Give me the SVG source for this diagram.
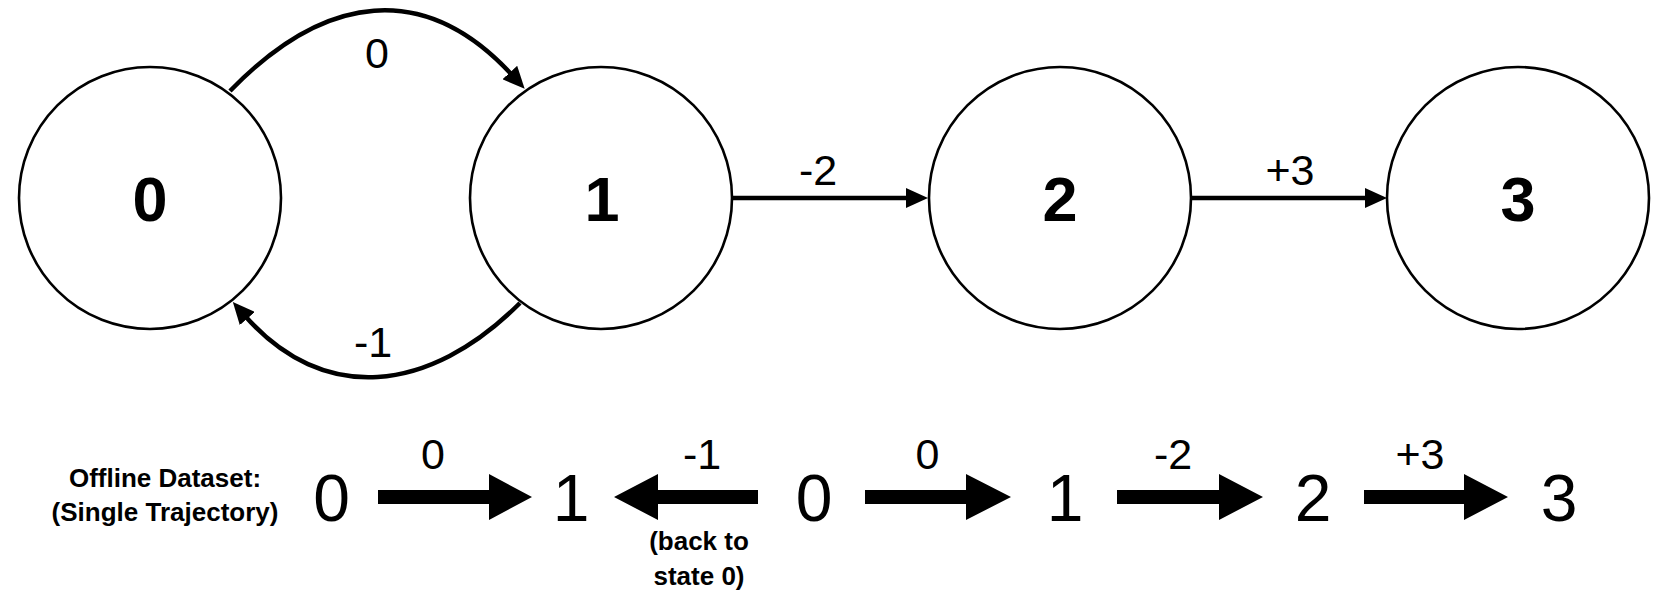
<svg xmlns="http://www.w3.org/2000/svg" width="1661" height="596" viewBox="0 0 1661 596">
  <style>
    .node { fill: #ffffff; stroke: #000000; stroke-width: 2.6; }
    .nlabel { font-family: "Liberation Sans", Arial, sans-serif; font-weight: bold; font-size: 63px; text-anchor: middle; fill: #000; }
    .elabel { font-family: "Liberation Sans", Arial, sans-serif; font-size: 43px; text-anchor: middle; fill: #000; }
    .edge { fill: none; stroke: #000000; stroke-width: 4.5; }
    .caption { font-family: "Liberation Sans", Arial, sans-serif; font-weight: bold; font-size: 26px; text-anchor: middle; fill: #000; }
    .big { font-family: "Liberation Sans", Arial, sans-serif; font-size: 66px; text-anchor: middle; fill: #000; }
    .block { fill: #000000; stroke: none; }
  </style>
  <defs>
    <marker id="arrow" markerUnits="userSpaceOnUse" markerWidth="22" markerHeight="20" refX="4" refY="10" orient="auto">
      <path d="M0,0 L22,10 L0,20 Z" fill="#000000"/>
    </marker>
  </defs>
  <rect width="1661" height="596" fill="#ffffff"/>

  <g id="node-0">
    <circle class="node" cx="150" cy="198" r="131"/>
    <text class="nlabel" x="150" y="221">0</text>
  </g>
  <g id="node-1">
    <circle class="node" cx="601" cy="198" r="131"/>
    <text class="nlabel" x="602" y="221">1</text>
  </g>
  <g id="node-2">
    <circle class="node" cx="1060" cy="198" r="131"/>
    <text class="nlabel" x="1060" y="221">2</text>
  </g>
  <g id="node-3">
    <circle class="node" cx="1518" cy="198" r="131"/>
    <text class="nlabel" x="1518" y="221">3</text>
  </g>

  <g id="connectors">
    <path class="edge" d="M230,91 C325,-7 425,-20 512.5,75.5" marker-end="url(#arrow)"/>
    <text class="elabel" x="377" y="68">0</text>
    <path class="edge" d="M520,303 C429,394 323,405 244.7,315.5" marker-end="url(#arrow)"/>
    <text class="elabel" x="373" y="357">-1</text>
    <path class="edge" d="M733,198 L910,198" marker-end="url(#arrow)"/>
    <text class="elabel" x="818" y="185">-2</text>
    <path class="edge" d="M1192,198 L1369,198" marker-end="url(#arrow)"/>
    <text class="elabel" x="1290" y="185">+3</text>
  </g>

  <g id="trajectory">
    <text class="caption" x="165" y="487">Offline Dataset:</text>
    <text class="caption" x="165" y="521">(Single Trajectory)</text>

    <text class="big" x="331.5" y="521">0</text>
    <polygon class="block" points="378,490 489,490 489,474 532,497 489,520 489,504 378,504"/>
    <text class="elabel" x="433" y="469">0</text>

    <text class="big" x="571" y="521">1</text>
    <polygon class="block" points="758,490 658,490 658,474 614,497 658,520 658,504 758,504"/>
    <text class="elabel" x="702" y="469">-1</text>
    <text class="caption" x="699" y="550">(back to</text>
    <text class="caption" x="699" y="585">state 0)</text>

    <text class="big" x="814" y="521">0</text>
    <polygon class="block" points="865,490 966,490 966,474 1011,497 966,520 966,504 865,504"/>
    <text class="elabel" x="927.5" y="469">0</text>

    <text class="big" x="1065" y="521">1</text>
    <polygon class="block" points="1117,490 1219,490 1219,474 1263,497 1219,520 1219,504 1117,504"/>
    <text class="elabel" x="1173" y="469">-2</text>

    <text class="big" x="1313" y="521">2</text>
    <polygon class="block" points="1364,490 1464,490 1464,474 1508,497 1464,520 1464,504 1364,504"/>
    <text class="elabel" x="1420" y="469">+3</text>

    <text class="big" x="1559" y="521">3</text>
  </g>
</svg>
